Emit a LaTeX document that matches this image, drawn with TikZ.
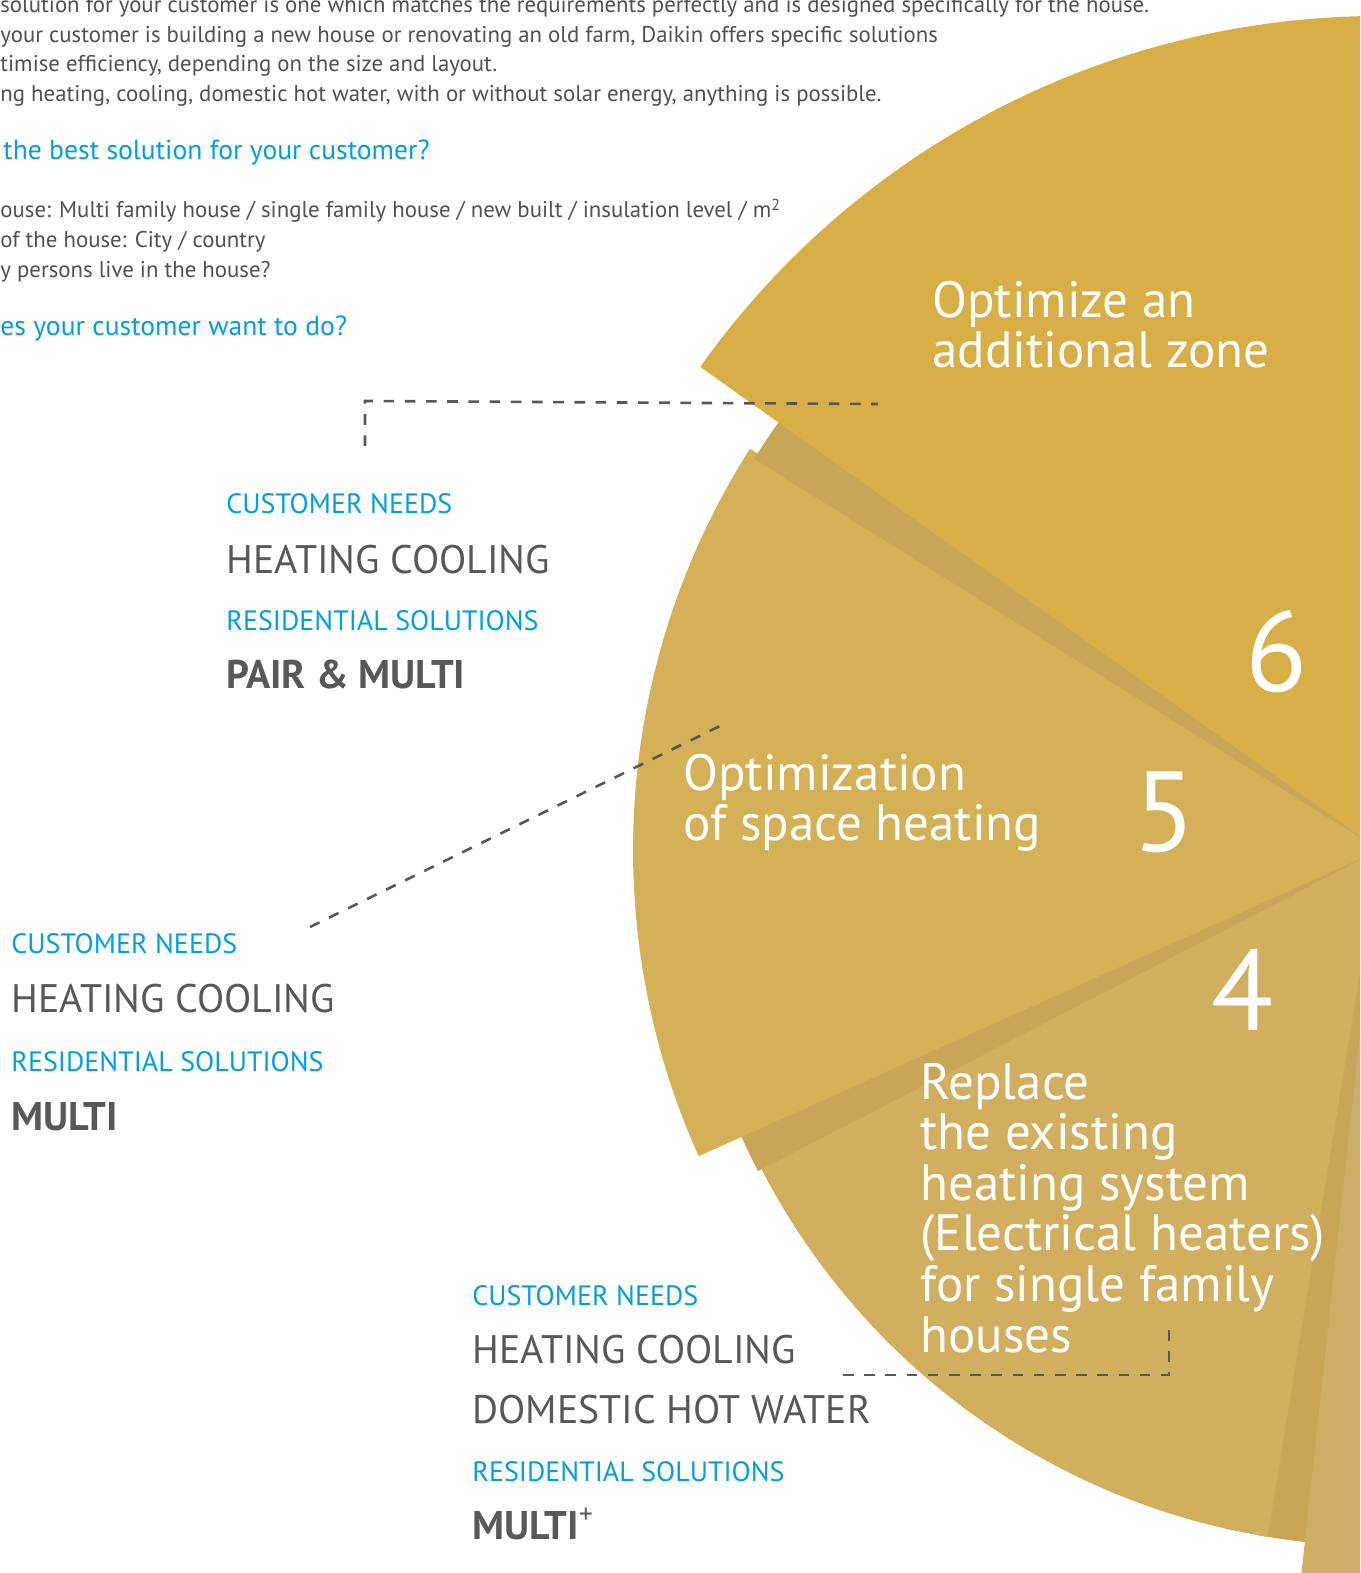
\documentclass[tikz,border=0pt]{standalone}
\usepackage{fontspec}
\setmainfont{PT Sans}
\usepackage{tikz}
\usetikzlibrary{positioning}
\definecolor{dkblue}{HTML}{009FE3}
\definecolor{dkgrey}{HTML}{58585A}
\definecolor{bodygrey}{HTML}{505052}
\definecolor{zone6}{HTML}{D8AE46}
\definecolor{zone5}{HTML}{D4B056}
\definecolor{zone4}{HTML}{D2AF5F}
\definecolor{zone3}{HTML}{CEAD67}
\definecolor{zonedark}{HTML}{C9A657}

\begin{document}
\begin{tikzpicture}[x=0.5pt, y=-0.5pt,
  txt/.style={anchor=base west, inner sep=0pt, text=bodygrey, font=\fontsize{11.4}{13}\selectfont},
  ask/.style={anchor=base west, inner sep=0pt, text=dkblue, font=\fontsize{13.8}{16}\selectfont},
  tag/.style={anchor=base west, inner sep=0pt, text=dkblue, font=\fontsize{14}{16}\selectfont},
  need/.style={anchor=base west, inner sep=0pt, text=dkgrey, font=\fontsize{19.9}{24}\selectfont},
  prod/.style={anchor=base west, inner sep=0pt, text=dkgrey, font=\bfseries\fontsize{20}{24}\selectfont},
  zone/.style={anchor=base west, inner sep=0pt, text=white, font=\fontsize{25.5}{27}\selectfont},
  num/.style={anchor=base west, inner sep=0pt, text=white, font=\fontsize{57}{60}\selectfont},
  link/.style={dkgrey, line width=1.3pt, dash pattern=on 5.3pt off 5.3pt}]
\useasboundingbox (0,0) rectangle (1360,1573);
\clip (0,0) rectangle (1360,1573);
% Pie
\coordinate (c) at (1380,850);
\fill[zonedark] (c) -- ++(94:696) arc[start angle=94, end angle=100, radius=696] -- cycle;
\fill[zone3] (c) -- ++(60:800) arc[start angle=60, end angle=96.2, radius=800] -- cycle;
\fill[zone4] (c) -- ++(99.3:696) arc[start angle=99.3, end angle=153, radius=696] -- cycle;
\fill[zonedark] (c) -- ++(152.7:700) arc[start angle=152.7, end angle=157, radius=700] -- cycle;
\fill[zone5] (c) -- ++(155.8:747) arc[start angle=155.8, end angle=212.5, radius=747] -- cycle;
\fill[zonedark] (c) -- ++(212:738) arc[start angle=212, end angle=216, radius=738] -- cycle;
\fill[zone6] (c) -- ++(215.4:834) arc[start angle=215.4, end angle=300, radius=834] -- cycle;

% Intro text
\node[txt] (l1) at (0,13) {solution for your customer is one which matches the requirements perfectly and is designed specifically for the house.};
\node[txt] (l2) at (0,43) {your customer is building a new house or renovating an old farm, Daikin offers specific solutions};
\node[txt] (l3) at (0,72) {timise efficiency, depending on the size and layout.};
\node[txt] (l4) at (0,102) {ng heating, cooling, domestic hot water, with or without solar energy, anything is possible.};
\node[ask] (q1) at (3,160) {the best solution for your customer?};
\node[txt] (l5) at (0,218) {ouse: Multi family house / single family house / new built / insulation level / m\textsuperscript{2}};
\node[txt] (l6) at (0,248) {of the house: City / country};
\node[txt] (l7) at (0,278) {y persons live in the house?};
\node[ask] (q2) at (0,335) {es your customer want to do?};

% Zones
\node[zone] (z6a) at (932,317) {Optimize an};
\node[zone] (z6b) at (932,367) {additional zone};
\node[num] (n6) at (1245,691) {6};
\node[zone] (z5a) at (683,790) {Optimization};
\node[zone] (z5b) at (683,840) {of space heating};
\node[num] (n5) at (1133,851) {5};
\node[num] (n4) at (1211,1030) {4};
\foreach \t [count=\i] in {{Replace},{the existing},{heating system},{(Electrical heaters)},{for single family},{houses}}
  \node[zone] (z4\i) at (920,1099+50.6*\i-50.6) {\t};

% Needs and solutions
\node[tag] (cn1) at (226,513) {CUSTOMER NEEDS};
\node[need] (hc1) at (226,573) {HEATING COOLING};
\node[tag] (rs1) at (226,630) {RESIDENTIAL SOLUTIONS};
\node[prod] (p1) at (226,688) {PAIR \& MULTI};
\node[tag] (cn2) at (11,953) {CUSTOMER NEEDS};
\node[need] (hc2) at (11,1012) {HEATING COOLING};
\node[tag] (rs2) at (11,1071) {RESIDENTIAL SOLUTIONS};
\node[prod] (p2) at (11,1130) {MULTI};
\node[tag] (cn3) at (472,1305) {CUSTOMER NEEDS};
\node[need] (hc3) at (472,1363) {HEATING COOLING};
\node[need] (dw3) at (472,1423) {DOMESTIC HOT WATER};
\node[tag] (rs3) at (472,1481) {RESIDENTIAL SOLUTIONS};
\node[prod] (p3) at (472,1539) {MULTI{\mdseries\textsuperscript{+}}};

% Links
\coordinate (a1) at (365,446);
\coordinate (a2) at (365,401);
\coordinate (a3) at (878,404);
\coordinate (b1) at (310,927);
\coordinate (b2) at (726,723);
\coordinate (d1) at (843,1375);
\coordinate (d2) at (1169,1375);
\coordinate (d3) at (1169,1322);
\draw[link] (a1) -- (a2) -- (a3);
\draw[link] (b1) -- (b2);
\draw[link] (d1) -- (d2) -- (d3);
\end{tikzpicture}
\end{document}
